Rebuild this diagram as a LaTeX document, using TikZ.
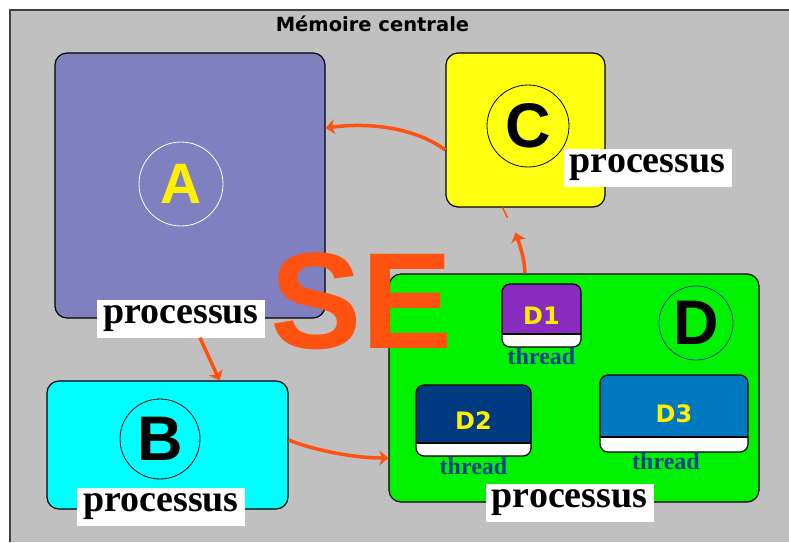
\documentclass[tikz,border=0pt]{standalone}
\usepackage{fontspec}
\usetikzlibrary{positioning,arrows.meta}
\newfontfamily\arialfnt{Liberation Sans}
\newfontfamily\timesfnt{Liberation Serif}
\newfontfamily\dejafnt{DejaVu Sans}
\definecolor{panelgray}{RGB}{192,192,192}
\definecolor{procA}{RGB}{128,128,192}
\definecolor{procB}{RGB}{0,255,255}
\definecolor{procC}{RGB}{255,255,16}
\definecolor{procD}{RGB}{0,242,0}
\definecolor{thrD1}{RGB}{138,43,192}
\definecolor{thrD2}{RGB}{0,58,128}
\definecolor{thrD3}{RGB}{0,120,192}
\definecolor{thrtext}{RGB}{16,64,144}
\definecolor{seorange}{RGB}{255,82,16}
\definecolor{lblyellow}{RGB}{255,240,0}
\begin{document}
\begin{tikzpicture}[x=1pt,y=-1pt,
  procbox/.style={draw=black,line width=1.2pt,rounded corners=12pt,inner sep=0pt},
  ring/.style={circle,inner sep=0pt,line width=0.8pt,font=\arialfnt\bfseries\fontsize{63}{63}\selectfont},
  proclbl/.style={fill=white,inner sep=0pt,minimum width=168pt,minimum height=38pt,
    font=\timesfnt\bfseries\fontsize{38}{38}\selectfont},
  threadbox/.style 2 args={draw=black,line width=1.2pt,rounded corners=8pt,fill=#1,inner sep=0pt,
    text=lblyellow,font=\dejafnt\bfseries\fontsize{24}{24}\selectfont,
    path picture={
      \fill[white,sharp corners] (path picture bounding box.south west) rectangle ([yshift=#2]path picture bounding box.south east);
      \draw[line width=1.2pt,sharp corners] ([yshift=#2]path picture bounding box.south west) -- ([yshift=#2]path picture bounding box.south east);}},
  threadlbl/.style={inner sep=0pt,text=thrtext,font=\timesfnt\bfseries\fontsize{24}{24}\selectfont},
  flow/.style={seorange,line width=3.5pt,-{Stealth[length=9pt,width=15pt,inset=2.5pt]}}]
  \useasboundingbox (0,0) rectangle (789,542);
  % memory panel
  \fill[panelgray] (10,10) rectangle (789,542);
  \draw[line width=2pt,black!75] (10,542) -- (10,10) -- (789,10);
  \node[anchor=base,font=\dejafnt\bfseries\fontsize{19.5}{20}\selectfont] (title) at (372.5,31) {Mémoire centrale};
  % processes
  \node[procbox,fill=procA,minimum width=270pt,minimum height=265pt] (A) at (190,185.5) {};
  \node[procbox,fill=procB,minimum width=241pt,minimum height=128pt] (B) at (167.5,445) {};
  \node[procbox,fill=procC,minimum width=159pt,minimum height=154pt] (C) at (525.5,130) {};
  \node[procbox,fill=procD,minimum width=370pt,minimum height=228pt] (D) at (574,388) {};
  \node[ring,draw=white,text=lblyellow,minimum size=84pt,font=\arialfnt\bfseries\fontsize{57}{57}\selectfont] (cA) at (181,184) {A};
  \node[ring,draw=black,minimum size=80pt] (cB) at (160,439) {B};
  \node[ring,draw=black,minimum size=82pt] (cC) at (528,126) {C};
  \node[ring,draw=thrtext,minimum size=74pt] (cD) at (696,323) {D};
  % threads of D
  \node[threadbox={thrD1}{13pt},minimum width=79pt,minimum height=63pt] (d1) at (541.5,315.5) {D1};
  \node[threadbox={thrD2}{13pt},minimum width=115pt,minimum height=71pt] (d2) at (473.5,420.5) {D2};
  \node[threadbox={thrD3}{15pt},minimum width=148pt,minimum height=77pt] (d3) at (674,413.5) {D3};
  \node[threadlbl,below=0pt of d1] (t1) {thread};
  \node[threadlbl,below=1pt of d2] (t2) {thread};
  \node[threadlbl,below=0pt of d3,xshift=-8pt] (t3) {thread};
  % labels
  \node[proclbl] (pA) at ([xshift=-9pt]A.south) {processus};
  \node[proclbl] (pB) at ([xshift=-6.5pt,yshift=3pt]B.south) {processus};
  \node[proclbl] (pC) at (647.5,168) {processus};
  \node[proclbl] (pD) at ([xshift=-4.5pt]D.south) {processus};
  \node[inner sep=0pt,anchor=base west,text=seorange,font=\arialfnt\bfseries\fontsize{137}{137}\selectfont] (se) at (270,348) {SE};
  % scheduling
  \draw[flow] ([yshift=-20pt]C.west) .. controls +(-30,-22) and +(45,-6) .. ([yshift=57.5pt]A.east);
  \draw[flow] ([xshift=-49pt]D.north) .. controls +(-1,-18) and +(4,12) .. ([xshift=-10pt,yshift=-25pt]C.south);
  \draw[seorange,line width=1.5pt] ([xshift=-23pt]C.south) -- +(5,10);
  \draw[flow] ([xshift=19pt]pA.south) -- ([xshift=52pt]B.north);
  \draw[flow] ([yshift=5pt]B.east) .. controls +(25,10) and +(-35,0) .. ([yshift=-70pt]D.west);
\end{tikzpicture}
\end{document}
